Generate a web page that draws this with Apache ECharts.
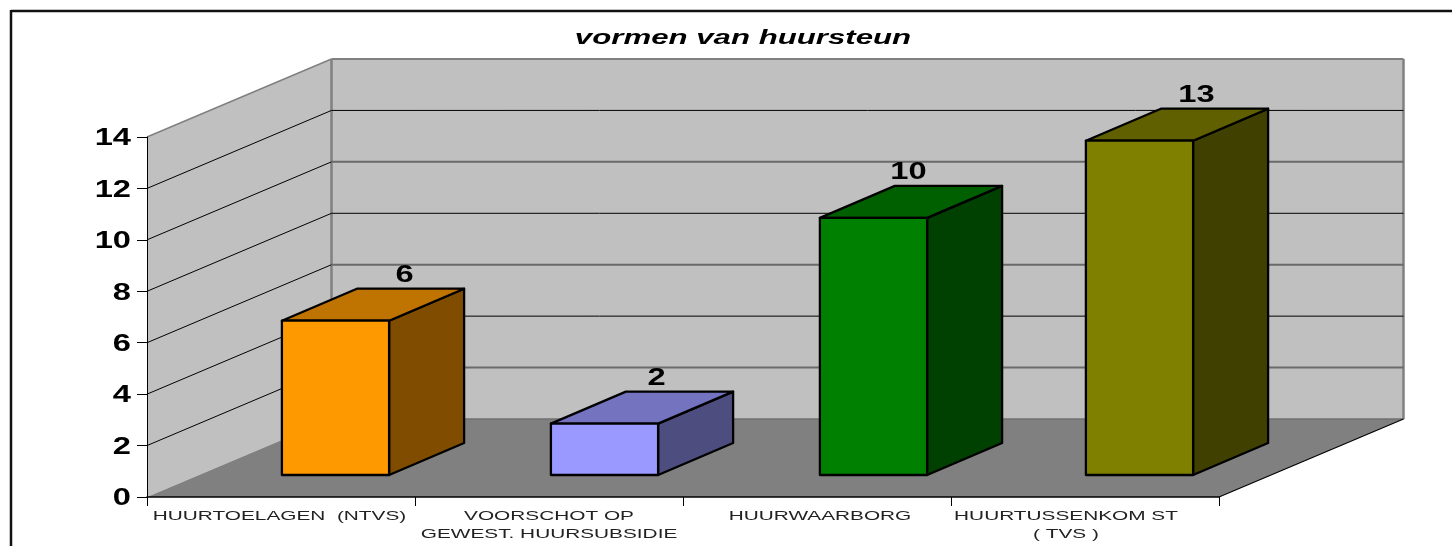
<!DOCTYPE html>
<html><head><meta charset="utf-8">
<style>html,body{margin:0;padding:0;background:#fff}#c{width:1452px;height:546px}</style>
<script src="https://cdn.jsdelivr.net/npm/echarts@6/dist/echarts.min.js"></script>
</head><body><div id="c"></div>
<script>
const chartTitle = 'vormen van huursteun';
const categories = ['HUURTOELAGEN  (NTVS)', 'VOORSCHOT OP\nGEWEST. HUURSUBSIDIE', 'HUURWAARBORG', 'HUURTUSSENKOM ST\n( TVS )'];
const values = [6, 2, 10, 13];
const yTicks = [0, 2, 4, 6, 8, 10, 12, 14];
const frontColors = ['#FF9900', '#9999FF', '#008000', '#808000'];
const topColors = ['#BF7300', '#7373BF', '#006000', '#606000'];
const sideColors = ['#804D00', '#4D4D80', '#004000', '#404000'];

const FONT = '"Liberation Sans", Arial, sans-serif';
const DEPTH = [184.5, -78];
const BAR_OFFSET = [54.5, -22];
const BAR_DEPTH = [75, -32];
const barNudge = [0, 1, 2, 0];
const catLabelNudge = [-1.5, 0, 3, -19];
const valLabelNudge = [-6, -23, -40, -18];

const chart = echarts.init(document.getElementById('c'), null, {renderer: 'canvas'});
const poly = (pts, fill, stroke, lw) => ({type: 'polygon', shape: {points: pts}, style: {fill, stroke: stroke || null, lineWidth: lw || 0, lineJoin: 'round'}});
const seg = (a, b, stroke, lw) => ({type: 'line', shape: {x1: a[0], y1: a[1], x2: b[0], y2: b[1]}, style: {stroke, lineWidth: lw}});
const add = (p, d) => [p[0] + d[0], p[1] + d[1]];

function renderWalls(params, api) {
  const g = params.coordSys;
  const bl = api.coord([0, 0]); bl[0] = g.x;
  const tl = [g.x, api.coord([0, 14])[1]];
  const br = [g.x + g.width, bl[1]];
  const bbl = add(bl, DEPTH), btl = add(tl, DEPTH), bbr = add(br, DEPTH), btr = add([br[0], tl[1]], DEPTH);
  return {type: 'group', children: [
    poly([bl, tl, btl, bbl], '#C0C0C0'),
    poly([bbl, btl, btr, bbr], '#C0C0C0'),
    poly([bl, bbl, bbr, br], '#808080'),
    seg(tl, btl, '#808080', 1.5),
    seg(btl, btr, '#808080', 2),
    seg(btl, bbl, '#808080', 2.5),
    seg(btr, bbr, '#808080', 2.5),
    seg(bbl, bbr, '#707070', 1.5),
    seg(br, bbr, '#000000', 1.2)
  ]};
}
function renderGrid(params, api) {
  const v = api.value(1);
  if (v === 0 || v === 14) return {type: 'group', children: []};
  const g = params.coordSys, y = api.coord([0, v])[1];
  const a = [g.x, y], b = add(a, DEPTH), c = [g.x + g.width + DEPTH[0], y + DEPTH[1]];
  const heavy = (v / 2) % 2 === 1;
  return {type: 'group', children: [
    seg(a, b, '#000000', 1),
    seg(b, c, heavy ? '#6a6a6a' : '#000000', heavy ? 2 : 1)
  ]};
}
function renderBar(params, api) {
  const i = api.value(0), v = api.value(1);
  const w = api.size([1, 0])[0] * 0.4;
  const c0 = api.coord([i, 0]), c1 = api.coord([i, v]);
  const x0 = c0[0] + BAR_OFFSET[0] + barNudge[i] - w / 2, x1 = x0 + w;
  const yb = c0[1] + BAR_OFFSET[1], yt = c1[1] + BAR_OFFSET[1];
  const ftl = [x0, yt], ftr = [x1, yt], fbr = [x1, yb], fbl = [x0, yb];
  const stroke = '#000000', lw = 2.3;
  return {type: 'group', children: [
    poly([ftr, fbr, add(fbr, BAR_DEPTH), add(ftr, BAR_DEPTH)], sideColors[i], stroke, lw),
    poly([ftl, ftr, add(ftr, BAR_DEPTH), add(ftl, BAR_DEPTH)], topColors[i], stroke, lw),
    poly([ftl, ftr, fbr, fbl], frontColors[i], stroke, lw),
    {type: 'text', x: x1 + BAR_DEPTH[0] - w / 2 + valLabelNudge[i], y: yt + BAR_DEPTH[1] - 13, scaleX: 1.42,
      style: {text: String(v), font: 'bold 23px ' + FONT, fill: '#000', align: 'center', verticalAlign: 'middle'}}
  ]};
}
function renderYLabel(params, api) {
  const p = api.coord([0, api.value(1)]);
  return {type: 'text', x: params.coordSys.x - 16, y: p[1] + 2, scaleX: 1.42,
    style: {text: String(api.value(1)), font: 'bold 23px ' + FONT, fill: '#000', align: 'right', verticalAlign: 'middle'}};
}
function renderXLabel(params, api) {
  const i = api.value(0), p = api.coord([i, 0]);
  return {type: 'text', x: p[0] + catLabelNudge[i], y: p[1] + 10, scaleX: 1.6,
    style: {text: categories[i], font: '13px ' + FONT, lineHeight: 18, fill: '#222', align: 'center', verticalAlign: 'top'}};
}
function renderTitle(params, api) {
  return {type: 'text', x: 743, y: 38, scaleX: 1.56,
    style: {text: chartTitle, font: 'italic bold 20px ' + FONT, fill: '#000', align: 'center', verticalAlign: 'middle'}};
}

chart.setOption({
  animation: false,
  backgroundColor: '#fff',
  grid: {left: 147, right: 233, top: 137, bottom: 49, containLabel: false},
  xAxis: {type: 'category', data: categories, boundaryGap: true, z: 10,
    axisLine: {lineStyle: {color: '#000', width: 1.5}},
    axisTick: {show: true, length: 9, lineStyle: {color: '#000', width: 1}},
    axisLabel: {show: false}, splitLine: {show: false}},
  yAxis: {type: 'value', min: 0, max: 14, interval: 2, z: 10,
    axisLine: {show: true, lineStyle: {color: '#000', width: 1}},
    axisTick: {show: true, length: 10, lineStyle: {color: '#000', width: 1}},
    axisLabel: {show: false}, splitLine: {show: false}},
  graphic: [
    {type: 'line', shape: {x1: 11, y1: 11, x2: 1452, y2: 11}, style: {stroke: '#111', lineWidth: 2.5}},
    {type: 'line', shape: {x1: 11, y1: 10, x2: 11, y2: 546}, style: {stroke: '#111', lineWidth: 2.5}}
  ],
  series: [
    {type: 'custom', name: 'walls', z: 1, silent: true, data: [[0, 0]], renderItem: renderWalls},
    {type: 'custom', name: 'gridlines', z: 2, silent: true, data: yTicks.map(v => [0, v]), renderItem: renderGrid},
    {type: 'custom', name: 'huursteun', z: 4, silent: true, data: values.map((v, i) => [i, v]), encode: {x: 0, y: 1}, renderItem: renderBar},
    {type: 'custom', name: 'ylabels', z: 5, silent: true, data: yTicks.map(v => [0, v]), renderItem: renderYLabel},
    {type: 'custom', name: 'xlabels', z: 5, silent: true, data: categories.map((c, i) => [i, 0]), renderItem: renderXLabel},
    {type: 'custom', name: 'title', z: 5, silent: true, data: [[0, 0]], renderItem: renderTitle}
  ]
});
</script></body></html>
